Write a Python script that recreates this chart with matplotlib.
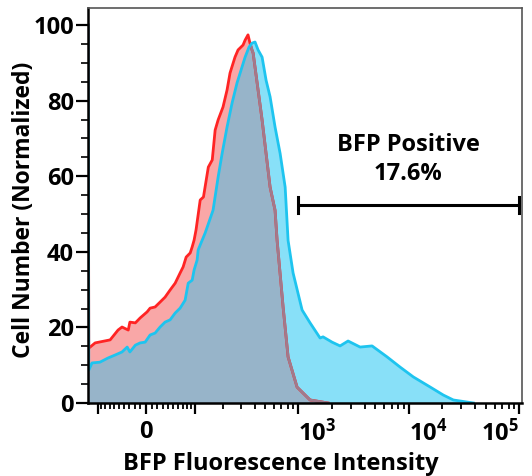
import matplotlib
matplotlib.use('Agg')
import matplotlib.pyplot as plt
import numpy as np

plt.rcParams['font.family'] = ['Open Sans', 'DejaVu Sans']
plt.rcParams['font.weight'] = 'bold'
plt.rcParams['mathtext.fontset'] = 'custom'
plt.rcParams['mathtext.rm'] = 'Open Sans:bold'
plt.rcParams['mathtext.it'] = 'Open Sans:bold'
plt.rcParams['mathtext.bf'] = 'Open Sans:bold'

# unstained / control (red) histogram
red_x = [-128, -126, -107, -69, -52, -44, -32, -29, -19, -10.5, 1.7, 7, 15.8, 24.8, 34, 43.8,
         54, 64.6, 71.4, 78.5, 88.5, 93.6, 98.7, 104, 116, 126, 142, 156, 167, 179, 200, 219,
         234, 261, 279, 311, 325, 346, 361, 377, 386, 467, 553, 614, 641, 727, 807, 974, 1278, 1860]
red_y = [100, 14.5, 15.9, 16.7, 19.3, 20.1, 19.3, 21.4, 21.2, 22.5, 24.1, 25.1, 25.4, 26.7, 28.0, 29.9,
         31.7, 34.4, 36.0, 38.6, 39.7, 41.3, 43.1, 45.8, 53.7, 54.5, 62.4, 64.3, 72.2, 74.9, 78.3, 82.8,
         87.3, 91.5, 93.4, 94.7, 96.0, 97.4, 95.2, 93.4, 92.6, 74.9, 57.1, 51.0, 43.0, 25.4, 12.2, 4.2, 0.8, 0]

# BFP (blue) histogram
blue_x = [-128, -126, -116, -94, -74, -58, -44, -34, -29, -19, -10.5, -1.7, 7, 15.8, 24.8, 34, 43.8,
          54, 64.6, 76, 83.5, 93.6, 98.7, 107, 110, 131.5, 159, 179, 196, 219, 245, 273, 298, 325,
          354, 377, 402, 429, 467, 508, 553, 614, 683, 759, 807, 896, 1082, 1278, 1574, 1675, 2022,
          2390, 2823, 3627, 4656, 6364, 8350, 10995, 15675, 20560, 25330, 38430]
blue_y = [100, 8.7, 10.6, 10.8, 11.9, 12.7, 13.5, 14.8, 13.5, 15.3, 15.9, 16.1, 18.0, 18.5, 20.1, 21.4, 22.0,
          23.8, 25.1, 27.2, 31.7, 32.5, 35.2, 37.8, 40.5, 45.0, 51.0, 59.8, 66.0, 73.0, 79.4, 84.7, 88.1, 91.5,
          94.2, 95.2, 95.5, 93.4, 91.5, 85.4, 81.0, 73.0, 66.0, 57.1, 43.0, 34.4, 24.6, 21.2, 17.2, 17.5, 16.1,
          15.1, 16.4, 14.8, 15.1, 12.2, 9.5, 6.9, 4.2, 2.1, 0.8, 0]

gate_range = [1000, 1e5]
gate_label = 'BFP Positive\n17.6%'

major_ticks = [-100, 0, 100, 1000, 1e4, 1e5]
major_labels = ['', '0', '', r'$10^3$', r'$10^4$', r'$10^5$']
minor_ticks = ([-v for v in range(10, 100, 10)] + list(range(10, 100, 10))
               + list(range(200, 1000, 100)) + list(range(2000, 10000, 1000))
               + list(range(20000, 100000, 10000)))

salmon = '#f9a7a7'
cyan = '#88e0f8'
slate = '#97b4c9'
red = '#ff2424'
blue = '#1ec4ef'
mauve = '#a07a8c'

fig = plt.figure(figsize=(5.32, 4.76), dpi=100)
ax = fig.add_axes([88 / 532, 1 - 403 / 476, 434 / 532, 395 / 476])

w = 84.0
ax.set_xscale('function', functions=(lambda v: np.arcsinh(np.asarray(v) / w),
                                     lambda u: w * np.sinh(np.asarray(u))))

ax.fill_between(red_x, red_y, color=salmon, lw=0)
blue_fill = ax.fill_between(blue_x, blue_y, color=cyan, lw=0)
overlap = ax.fill_between(red_x, red_y, color=slate, lw=0)
overlap.set_clip_path(blue_fill.get_paths()[0], ax.transData)

ax.plot(red_x, red_y, color=red, lw=2)
red_under = ax.plot(red_x, red_y, color=mauve, lw=2)[0]
red_under.set_clip_path(blue_fill.get_paths()[0], ax.transData)
ax.plot(blue_x, blue_y, color=blue, lw=2)

ax.set_xlim(-128.5, 105900)
ax.set_ylim(0, 104.5)

# gate bracket
ax.plot(gate_range, [52.4, 52.4], color='black', lw=2.2, solid_capstyle='butt', clip_on=False)
for gx in gate_range:
    ax.plot([gx, gx], [50.2, 54.6], color='black', lw=2.2, clip_on=False)
ax.text(9850, 64.4, gate_label, ha='center', va='center', fontsize=17,
        fontweight='bold', linespacing=1.3)

ax.set_xticks(major_ticks)
ax.set_xticklabels(major_labels)
ax.set_xticks(minor_ticks, minor=True)
ax.set_yticks([0, 20, 40, 60, 80, 100])
ax.set_yticks(np.arange(5, 105, 5), minor=True)

ax.tick_params(axis='x', which='major', direction='out', length=8, width=1.6, labelsize=17, pad=4)
ax.tick_params(axis='x', which='minor', direction='out', length=4, width=1.3)
ax.tick_params(axis='y', which='major', direction='out', length=9, width=1.6, labelsize=17, pad=1)
ax.tick_params(axis='y', which='minor', direction='out', length=5, width=1.2)

labels = ax.get_xticklabels()
labels[3].set_horizontalalignment('left')
labels[4].set_horizontalalignment('left')
labels[5].set_horizontalalignment('right')

for side in ['left', 'bottom']:
    ax.spines[side].set_linewidth(1.8)
for side in ['top', 'right']:
    ax.spines[side].set_linewidth(1.2)
    ax.spines[side].set_color('#555555')

ax.set_xlabel('BFP Fluorescence Intensity', fontsize=17, fontweight='bold')
ax.set_ylabel('Cell Number (Normalized)', fontsize=16.5, fontweight='bold')
ax.xaxis.set_label_coords(0.445, -0.125)
ax.yaxis.set_label_coords(-0.12, 0.49)

fig.savefig('out.png', dpi=100)
